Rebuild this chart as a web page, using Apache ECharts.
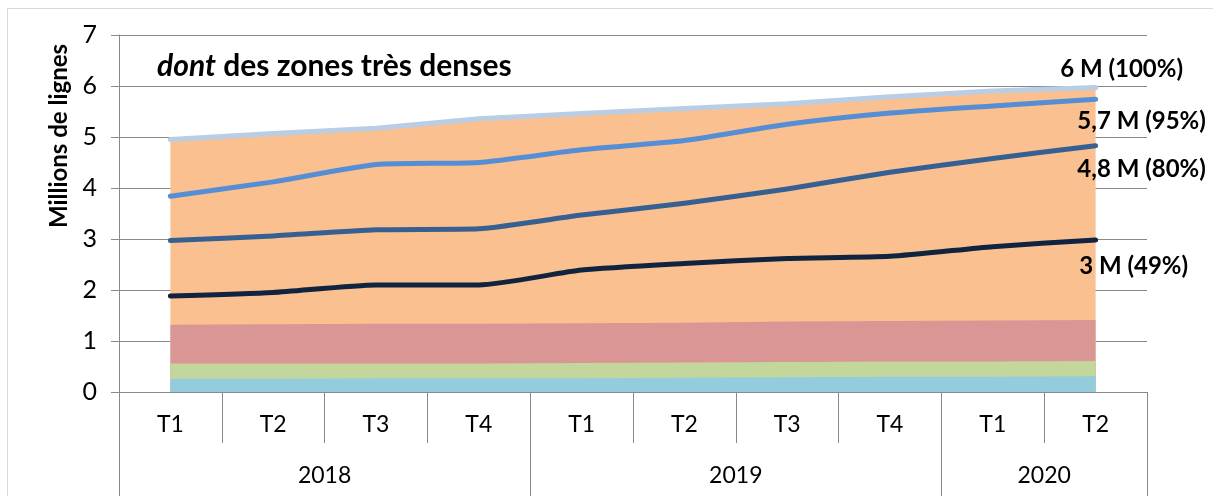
<!DOCTYPE html>
<html>
<head>
<meta charset="utf-8">
<script src="https://cdn.jsdelivr.net/npm/echarts@6/dist/echarts.min.js"></script>
<style>
  html, body { margin: 0; padding: 0; background: #fff; overflow: hidden; }
  #frame { position: absolute; left: 7px; top: 8px; width: 1400px; height: 700px; border: 1px solid #d9d9d9; box-sizing: border-box; }
  #chart { position: absolute; left: 0; top: 0; width: 1213px; height: 496px; }
</style>
</head>
<body>
<div id="frame"></div>
<div id="chart"></div>
<script>
// ---- data ----
const quarters = ['T1', 'T2', 'T3', 'T4', 'T1', 'T2', 'T3', 'T4', 'T1', 'T2'];
const years = ['2018', '2019', '2020'];
const quartersPerYear = [4, 4, 2];
const yTicks = [0, 1, 2, 3, 4, 5, 6, 7];

// stacked layer tops (millions of lines)
const totalTop = [4.95, 5.07, 5.17, 5.36, 5.46, 5.56, 5.65, 5.79, 5.90, 5.97];
const redTop   = [1.32, 1.33, 1.34, 1.34, 1.35, 1.36, 1.38, 1.39, 1.40, 1.41];
const greenTop = [0.56, 0.56, 0.56, 0.56, 0.57, 0.58, 0.59, 0.60, 0.60, 0.61];
const blueTop  = [0.26, 0.26, 0.27, 0.27, 0.27, 0.28, 0.29, 0.30, 0.30, 0.31];

// coverage lines
const line95 = [3.84, 4.12, 4.46, 4.50, 4.75, 4.93, 5.25, 5.47, 5.61, 5.74];
const line80 = [2.97, 3.06, 3.18, 3.20, 3.47, 3.70, 3.98, 4.31, 4.58, 4.83];
const line49 = [1.88, 1.95, 2.10, 2.10, 2.39, 2.52, 2.62, 2.66, 2.85, 2.98];

const endLabels = ['6 M (100%)', '5,7 M (95%)', '4,8 M (80%)', '3 M (49%)'];
const titleItalic = 'dont';
const titleRest = ' des zones très denses';
const yName = 'Millions de lignes';

// ---- build year axis (boundary positions) ----
const nB = quarters.length + 1;
const yearCats = new Array(nB).fill('');
const yearTickIdx = [0];
let acc = 0;
years.forEach((y, i) => {
  const span = quartersPerYear[i];
  yearCats[acc + span / 2] = y;
  acc += span;
  yearTickIdx.push(acc);
});

const FONT = 'Lato, "Open Sans", sans-serif';
const GRAY = '#898989';
const last = quarters.length - 1;

function areaSeries(name, data, color) {
  return {
    name, type: 'line', data, symbol: 'none', silent: true,
    lineStyle: { width: 0 }, areaStyle: { color, opacity: 1, origin: 'start' },
    z: 1
  };
}
function lineSeries(name, data, color, labelText, pos, smooth) {
  return {
    name, type: 'line', data, smooth: smooth,
    showSymbol: true, symbol: 'circle', symbolSize: 0,
    lineStyle: { width: 5, color, cap: 'round', join: 'round' },
    itemStyle: { color },
    label: {
      show: true,
      position: pos,
      align: 'center', verticalAlign: 'middle',
      fontFamily: FONT, fontSize: 24, fontWeight: 'bold', color: '#000',
      formatter: p => p.dataIndex === last ? labelText : ''
    },
    z: 3
  };
}

const chart = echarts.init(document.getElementById('chart'), null, { renderer: 'canvas' });
chart.setOption({
  animation: false,
  backgroundColor: 'transparent',
  textStyle: { fontFamily: FONT },
  title: {
    text: '{i|' + titleItalic + '}' + titleRest,
    left: 152, top: 46,
    textStyle: {
      fontFamily: FONT, fontSize: 30, fontWeight: 'bold', color: '#000',
      rich: { i: { fontFamily: FONT, fontSize: 30, fontWeight: 'bold', fontStyle: 'italic', color: '#000' } }
    }
  },
  graphic: [{
    type: 'text', x: 59, y: 136, rotation: Math.PI / 2,
    style: {
      text: yName, fontFamily: FONT, fontSize: 24, fontWeight: 'bold', fill: '#000',
      align: 'center', verticalAlign: 'middle'
    }
  }],
  grid: { left: 119, right: 66, top: 35, bottom: 104, containLabel: false },
  xAxis: [{
    type: 'category', data: quarters, boundaryGap: true, position: 'bottom',
    axisLine: { show: true, lineStyle: { color: GRAY, width: 1 } },
    axisTick: { show: true, interval: 0, length: 51, lineStyle: { color: GRAY, width: 1 } },
    axisLabel: { interval: 0, margin: 21, fontSize: 23, color: '#000', fontFamily: FONT }
  }, {
    type: 'category', data: yearCats, boundaryGap: false, position: 'bottom', offset: 51,
    axisLine: { show: false },
    axisTick: { show: true, length: 54, interval: (i) => yearTickIdx.indexOf(i) >= 0, lineStyle: { color: GRAY, width: 1 } },
    axisLabel: { interval: (i, v) => v !== '', margin: 21, fontSize: 23, color: '#000', fontFamily: FONT }
  }],
  yAxis: {
    type: 'value', min: yTicks[0], max: yTicks[yTicks.length - 1], interval: 1,
    axisLine: { show: true, lineStyle: { color: GRAY, width: 1 } },
    axisTick: { show: true, length: 8, lineStyle: { color: GRAY, width: 1 } },
    splitLine: { show: true, lineStyle: { color: GRAY, width: 1 } },
    axisLabel: { margin: 22, fontSize: 25, color: '#000', fontFamily: FONT }
  },
  series: [
    areaSeries('total', totalTop, '#FAC090'),
    areaSeries('red', redTop, '#D99694'),
    areaSeries('green', greenTop, '#C3D69B'),
    areaSeries('blue', blueTop, '#93CDDD'),
    lineSeries('l100', totalTop, '#B9CDE5', endLabels[0], [26, -18], false),
    lineSeries('l95', line95, '#558ED5', endLabels[1], [46, 22], 0.2),
    lineSeries('l80', line80, '#376092', endLabels[2], [46, 24], 0.2),
    lineSeries('l49', line49, '#10243F', endLabels[3], [38, 26], 0.2)
  ]
});
</script>
</body>
</html>
